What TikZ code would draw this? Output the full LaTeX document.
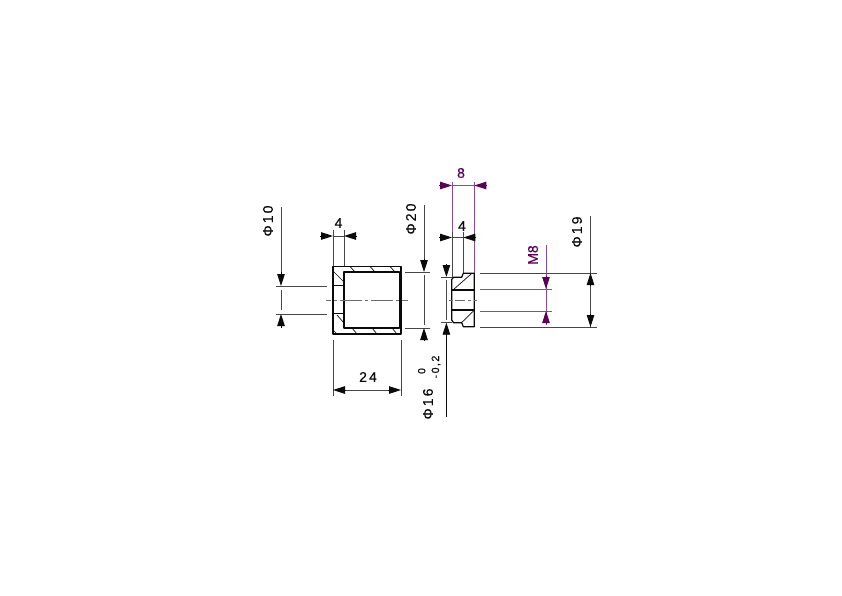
\documentclass[tikz,border=0pt]{standalone}
\usepackage{fontspec}
\setmainfont{Liberation Sans}
\newfontfamily\dimfont{Liberation Sans}[FakeBold=0.35]
\usetikzlibrary{arrows.meta}
\definecolor{dimpurple}{RGB}{92,0,92}
\definecolor{ink}{RGB}{10,10,10}
\newcommand{\spc}{\kern2.1pt}
\tikzset{
  x=1pt,y=-1pt,
  outline/.style={draw=ink,line width=1.2pt,line join=round},
  hatchline/.style={draw=ink,line width=.7pt},
  thinline/.style={draw=ink!75,line width=.8pt},
  purpleline/.style={draw=dimpurple!70,line width=.8pt},
  centerline/.style={draw=ink!60,line width=.9pt,dash pattern=on 22pt off 3pt on 3pt off 3pt,dash phase=17pt},
  tipped/.style={-{Triangle[length=12pt,width=7.5pt]},line width=.9pt},
  dimtext/.style={font=\dimfont\fontsize{14}{15}\selectfont,text=ink,inner sep=0pt},
  dimtextp/.style={font=\dimfont\fontsize{14}{15}\selectfont,text=dimpurple,inner sep=0pt},
  smalltext/.style={font=\dimfont\fontsize{10.5}{11}\selectfont,text=ink,inner sep=0pt},
}
\begin{document}
\begin{tikzpicture}
\useasboundingbox (0,0) rectangle (842,595);
\fill[white] (0,0) rectangle (842,595);

% ---- left part
\draw[thinline] (333,230) -- (333,266) (344,230) -- (344,266);
\draw[thinline] (333,340) -- (333,396) (401,340) -- (401,396);
\draw[thinline] (276,286) -- (327,286) (276,314) -- (327,314);
\draw[thinline] (405,272) -- (430,272) (405,328) -- (430,328);
\draw[outline] (333,266.5) -- (401,266.5) -- (401,334) -- (333,334) -- cycle;
\draw[outline] (344,272) -- (399.5,272) -- (399.5,328) -- (344,328) -- cycle;
\draw[outline] (333,285.8) -- (344,285.8);
\draw[draw=ink,line width=.9pt] (333,313.5) -- (344,313.5);
\draw[hatchline] (350,266.5) -- (355,272) (370,266.5) -- (375,272) (390,266.5) -- (395,272);
\draw[hatchline] (333,330) -- (337,334) (352,328) -- (357,334) (372,328) -- (377,334) (392,328) -- (397,334);
\draw[hatchline] (333,271) -- (344,282) (337,315) -- (344,323);
\draw[centerline] (326,300) -- (408,300);

% dim 4 (left)
\draw[thinline] (333,236) -- (344,236);
\draw[tipped,ink] (320,236) -- (333,236);
\draw[tipped,ink] (357,236) -- (344,236);
\node[dimtext] (t4a) at (338.5,223) {4};
% dim 24
\draw[thinline] (345,390) -- (390,390);
\draw[tipped,ink] (346,390) -- (333,390);
\draw[tipped,ink] (388,390) -- (401,390);
\node[dimtext] (t24) at (368,377) {2\spc 4};
% dim phi 10
\draw[thinline] (281,207) -- (281,275) (281,290) -- (281,310);
\draw[tipped,ink] (281,272) -- (281,286);
\draw[tipped,ink] (281,328) -- (281,314);
\node[dimtext,rotate=90] (t10) at (268,221) {Φ\spc 1\spc 0};
% dim phi 20
\draw[thinline] (424,205) -- (424,262) (424,275) -- (424,325);
\draw[tipped,ink] (424,259) -- (424,272);
\draw[tipped,ink] (424,341) -- (424,328);
\node[dimtext,rotate=90] (t20) at (411,219) {Φ\spc 2\spc 0};

% ---- right part, extension lines
\draw[purpleline] (452,182) -- (452,232) (474.3,182) -- (474.3,273);
\draw[thinline] (452,232) -- (452,279) (463.3,232) -- (463.3,273);
\draw[thinline] (441,277) -- (452,277) (441,322.7) -- (452,322.7);
\draw[thinline] (480,273) -- (597,273) (480,327) -- (597,327);
\draw[purpleline] (480,289) -- (552,289) (480,311) -- (552,311);

% part outline
\draw[outline] (463.3,273.3) -- (474.3,273.3) -- (474.3,326.7) -- (463.3,326.7) -- (461.7,322.7)
  -- (453.5,322.7) -- (451.7,320) -- (451.7,279.5) -- (453.5,277.3) -- (461.7,277.3) -- cycle;
\draw[outline] (451.7,290) -- (474.3,290) (451.7,310) -- (474.3,310);
\draw[hatchline] (453.5,289.5) -- (471.7,273.5) (461.7,322.5) -- (473.5,311);
\draw[centerline,dash pattern=on 4pt off 2pt on 10pt off 3pt on 3pt off 3pt on 8pt,dash phase=0pt] (449,300) -- (477,300);

% dim 8
\draw[purpleline] (452,185.5) -- (474.3,185.5);
\draw[tipped,dimpurple] (439,185.5) -- (452,185.5);
\draw[tipped,dimpurple] (487.3,185.5) -- (474.3,185.5);
\node[dimtextp] (t8) at (461,173) {8};
% dim 4 (right)
\draw[thinline] (452,237.5) -- (463.3,237.5);
\draw[tipped,ink] (439,237.5) -- (452,237.5);
\draw[tipped,ink] (476.3,237.5) -- (463.3,237.5);
\node[dimtext] (t4b) at (462,226) {4};
% dim phi 16
\draw[thinline] (446.4,280) -- (446.4,320);
\draw[tipped,ink] (446.4,264) -- (446.4,277);
\draw[tipped,ink] (446.4,417) -- (446.4,322.7);
\node[dimtext,rotate=90] (t16) at (428,404) {Φ\spc 1\spc 6};
\node[smalltext,rotate=90] (t16a) at (421.7,371) {0};
\node[smalltext,rotate=90] (t16b) at (436,367) {-\kern1.5pt 0\kern1.5pt ,\kern1.5pt 2};
% dim M8
\draw[purpleline] (546,245) -- (546,325);
\draw[tipped,dimpurple] (546,276) -- (546,289);
\draw[tipped,dimpurple] (546,324) -- (546,311);
\node[dimtextp,rotate=90] (tm8) at (533,255) {M8};
% dim phi 19
\draw[thinline] (590.5,216) -- (590.5,327);
\draw[tipped,ink] (590.5,286) -- (590.5,273);
\draw[tipped,ink] (590.5,314) -- (590.5,327);
\node[dimtext,rotate=90] (t19) at (577,232) {Φ\spc 1\spc 9};
\end{tikzpicture}
\end{document}
